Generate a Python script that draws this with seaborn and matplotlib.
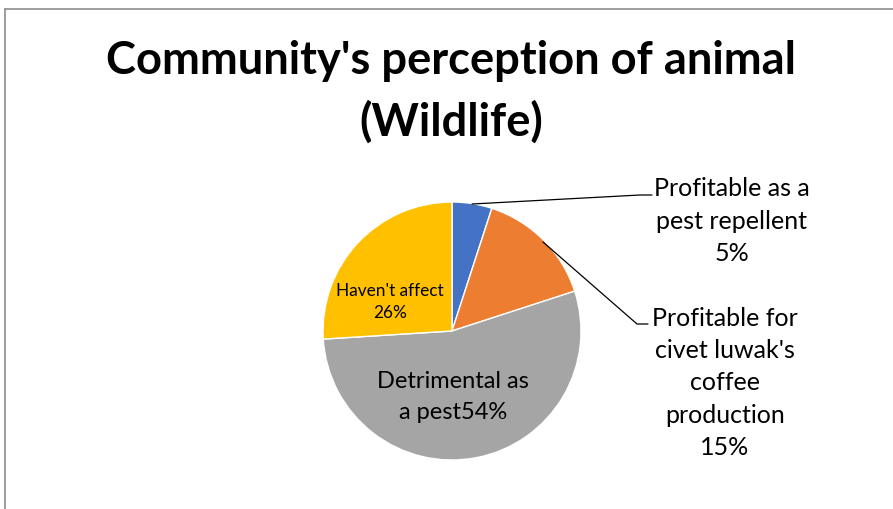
import matplotlib
matplotlib.use("Agg")
import matplotlib.pyplot as plt
import seaborn as sns

categories = ["Profitable as a pest repellent",
              "Profitable for civet luwak's coffee production",
              "Detrimental as a pest",
              "Haven't affect"]
values = [5, 15, 54, 26]
colors = ["#4472C4", "#ED7D31", "#A5A5A5", "#FFC000"]
label_texts = ["Profitable as a\npest repellent\n5%",
               "Profitable for\ncivet luwak's\ncoffee\nproduction\n15%",
               "Detrimental as\na pest54%",
               "Haven't affect\n26%"]
title = "Community's perception of animal\n(Wildlife)"

sns.set_theme(style="white")
plt.rcParams["font.family"] = ["Lato", "DejaVu Sans"]

W, H = 893, 509
fig = plt.figure(figsize=(W / 100, H / 100), dpi=100)
ax = fig.add_axes([0, 0, 1, 1])

cx, cy, r = 452, H - 331, 129
wedges, _ = ax.pie(values, colors=colors, startangle=90, counterclock=False,
                   center=(cx, cy), radius=r, frame=True,
                   wedgeprops=dict(edgecolor="white", linewidth=1.0))
ax.set_xlim(0, W)
ax.set_ylim(0, H)
ax.set_aspect("equal")
ax.axis("off")

# chart border (top and left edges)
ax.plot([5, W], [H - 9, H - 9], color="#8c8c8c", lw=1.2, clip_on=False)
ax.plot([5, 5], [0, H - 9], color="#8c8c8c", lw=1.2, clip_on=False)

ax.text(451, H - 92, title, ha="center", va="center", fontsize=32.6,
        fontweight="bold", color="black", linespacing=1.5)

# outside labels with leader lines
ax.text(732, H - 221, label_texts[0], ha="center", va="center", fontsize=18,
        color="black", linespacing=1.48)
ax.plot([472, 640, 652], [H - 204, H - 195, H - 195], color="black", lw=0.9)

ax.text(725, H - 383, label_texts[1], ha="center", va="center", fontsize=18,
        color="black", linespacing=1.48)
ax.plot([543, 637, 648], [H - 242, H - 324, H - 324], color="black", lw=0.9)

# inside labels
ax.text(453, H - 397, label_texts[2], ha="center", va="center", fontsize=17,
        color="black", linespacing=1.54)
ax.text(390, H - 302, label_texts[3], ha="center", va="center", fontsize=12.4,
        color="black", linespacing=1.45)

fig.savefig("out.png", dpi=100, facecolor="white")
